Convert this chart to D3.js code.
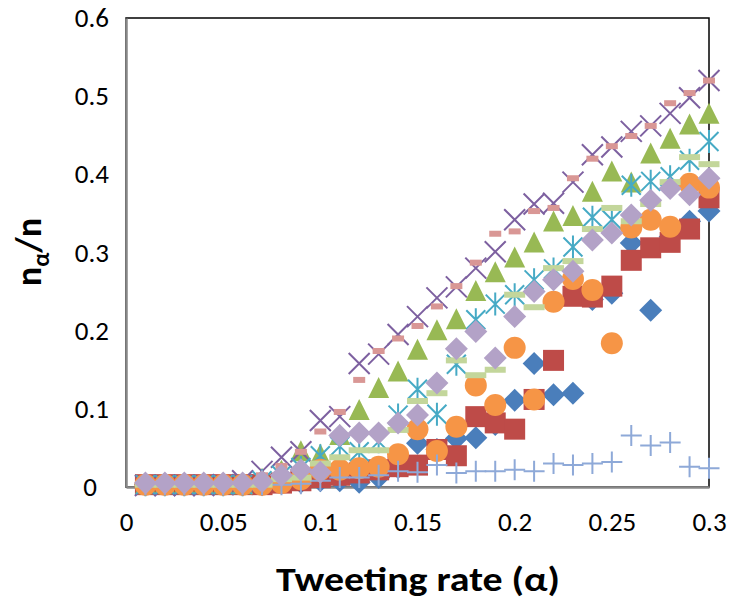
<!DOCTYPE html>
<html><head><meta charset="utf-8">
<script src="https://cdn.jsdelivr.net/npm/d3@7"></script>
<style>
html,body{margin:0;padding:0;background:#fff;}
svg text{font-family:"Carlito","Liberation Sans Narrow","Open Sans",sans-serif;}
</style></head>
<body><svg id="chart" width="733" height="605"></svg>
<script>
const alpha = [0.01,0.02,0.03,0.04,0.05,0.06,0.07,0.08,0.09,0.10,0.11,0.12,0.13,0.14,0.15,0.16,0.17,0.18,0.19,0.20,0.21,0.22,0.23,0.24,0.25,0.26,0.27,0.28,0.29,0.30];
const s1 = [0.003,0.003,0.003,0.003,0.003,0.003,0.003,0.005,0.006,0.008,0.008,0.006,0.012,0.025,0.056,0.048,0.062,0.063,0.08,0.111,0.158,0.118,0.12,0.24,0.248,0.312,0.226,0.32,0.34,0.353];
const s2 = [0.003,0.003,0.003,0.003,0.003,0.003,0.003,0.005,0.008,0.012,0.015,0.018,0.022,0.026,0.028,0.048,0.04,0.09,0.082,0.074,0.112,0.162,0.244,0.243,0.257,0.29,0.306,0.313,0.33,0.37];
const s3 = [0.003,0.003,0.003,0.003,0.003,0.003,0.01,0.02,0.045,0.041,0.066,0.098,0.126,0.147,0.175,0.2,0.214,0.25,0.274,0.293,0.312,0.339,0.346,0.377,0.403,0.389,0.426,0.445,0.463,0.477];
const s4 = [0.002,0.002,0.002,0.002,0.003,0.008,0.02,0.038,0.045,0.085,0.09,0.158,0.17,0.195,0.218,0.242,0.256,0.28,0.301,0.342,0.362,0.363,0.39,0.425,0.435,0.455,0.462,0.478,0.498,0.52];
const s5 = [0.003,0.003,0.003,0.003,0.003,0.003,0.008,0.015,0.025,0.04,0.052,0.045,0.058,0.092,0.125,0.093,0.157,0.214,0.234,0.246,0.265,0.279,0.307,0.345,0.342,0.386,0.391,0.397,0.418,0.442];
const s6 = [0.003,0.003,0.003,0.003,0.003,0.003,0.003,0.005,0.01,0.022,0.022,0.024,0.026,0.042,0.074,0.046,0.077,0.13,0.105,0.178,0.112,0.237,0.266,0.252,0.184,0.332,0.342,0.333,0.388,0.383];
const s7 = [0.003,0.003,0.003,0.003,0.003,0.003,0.003,0.003,0.004,0.008,0.012,0.012,0.015,0.02,0.019,0.028,0.018,0.02,0.02,0.022,0.02,0.03,0.028,0.03,0.032,0.066,0.053,0.057,0.026,0.024];
const s8 = [0.002,0.002,0.002,0.002,0.002,0.008,0.015,0.027,0.045,0.071,0.096,0.137,0.174,0.19,0.206,0.231,0.257,0.287,0.324,0.327,0.353,0.357,0.395,0.42,0.436,0.449,0.462,0.491,0.504,0.52];
const s9 = [0.003,0.003,0.003,0.003,0.003,0.003,0.003,0.01,0.012,0.03,0.038,0.047,0.047,0.073,0.11,0.12,0.162,0.143,0.15,0.246,0.23,0.28,0.289,0.33,0.357,0.34,0.362,0.39,0.422,0.413];
const s10 = [0.005,0.005,0.005,0.005,0.005,0.005,0.007,0.015,0.022,0.019,0.066,0.069,0.069,0.082,0.092,0.133,0.177,0.199,0.165,0.218,0.25,0.265,0.276,0.316,0.325,0.348,0.367,0.382,0.374,0.395];
const xTicks = [0,0.05,0.1,0.15,0.2,0.25,0.3];
const yTicks = [0,0.1,0.2,0.3,0.4,0.5,0.6];

const seriesList = [
  {v:s1, shape:"diamond", color:"#4A7EBB"},
  {v:s2, shape:"square", color:"#BE4B48"},
  {v:s3, shape:"triangle", color:"#98B954"},
  {v:s4, shape:"x", color:"#7D60A0"},
  {v:s5, shape:"star", color:"#46AAC5"},
  {v:s6, shape:"circle", color:"#F69546"},
  {v:s7, shape:"plus", color:"#8EA9D8"},
  {v:s8, shape:"dash", color:"#D99795"},
  {v:s9, shape:"longdash", color:"#C3D69B"},
  {v:s10, shape:"diamond", color:"#B3A2C7"}
];

const svg = d3.select("#chart");
const x = d3.scaleLinear().domain([0,0.3]).range([126,709]);
const y = d3.scaleLinear().domain([0,0.6]).range([487,18]);

svg.append("rect").attr("x",x(0)).attr("y",y(0.6)).attr("width",x(0.3)-x(0)).attr("height",y(0)-y(0.6))
  .attr("fill","none").attr("stroke","#000").attr("stroke-width",1.5);

const fmt = d => d===0 ? "0" : String(d);
const xAxis = svg.append("g").attr("transform",`translate(0,${y(0)})`)
  .call(d3.axisBottom(x).tickValues(xTicks).tickFormat(fmt).tickSize(0).tickPadding(25));
const yAxis = svg.append("g").attr("transform",`translate(${x(0)},0)`)
  .call(d3.axisLeft(y).tickValues(yTicks).tickFormat(fmt).tickSize(0).tickPadding(17));
[xAxis,yAxis].forEach(g=>{
  g.select(".domain").attr("stroke","#888").attr("stroke-width",2.5);
  g.selectAll("text").attr("font-size",27).attr("fill","#000");
});
yAxis.selectAll(".tick text").filter(d=>d===0).attr("dx",-12);

const R = 10.5;
function drawMarker(g, shape, color){
  switch(shape){
    case "diamond":
      g.append("path").attr("d",`M0,${-R-1}L${R+1},0L0,${R+1}L${-R-1},0Z`).attr("fill",color); break;
    case "square":
      g.append("rect").attr("x",-R).attr("y",-R).attr("width",2*R).attr("height",2*R).attr("fill",color); break;
    case "triangle":
      g.append("path").attr("d",`M0,${-R-1}L${R},${R-1}L${-R},${R-1}Z`).attr("fill",color); break;
    case "circle":
      g.append("circle").attr("r",R+0.5).attr("fill",color); break;
    case "x":
      g.append("path").attr("d",`M${-R},${-R}L${R},${R}M${R},${-R}L${-R},${R}`).attr("stroke",color).attr("stroke-width",2); break;
    case "star":
      g.append("path").attr("d",`M${-R+1},${-R+1}L${R-1},${R-1}M${R-1},${-R+1}L${-R+1},${R-1}M0,${-R-1}L0,${R+1}`).attr("stroke",color).attr("stroke-width",2); break;
    case "plus":
      g.append("path").attr("d",`M${-R},0L${R},0M0,${-R}L0,${R}`).attr("stroke",color).attr("stroke-width",2); break;
    case "dash":
      g.append("rect").attr("x",-6).attr("y",-3).attr("width",12).attr("height",6).attr("fill",color); break;
    case "longdash":
      g.append("rect").attr("x",-R).attr("y",-3).attr("width",2*R).attr("height",6).attr("fill",color); break;
  }
}
seriesList.forEach(s=>{
  const grp = svg.append("g");
  alpha.forEach((a,i)=>{
    const g = grp.append("g").attr("transform",`translate(${x(a)},${y(s.v[i])})`);
    drawMarker(g, s.shape, s.color);
  });
});

svg.append("text").attr("x",418).attr("y",591).attr("text-anchor","middle")
  .attr("font-size",35).attr("font-weight","bold")
  .attr("textLength",284).attr("lengthAdjust","spacingAndGlyphs").text("Tweeting rate (α)");
const yt = svg.append("text").attr("transform","translate(41,252) rotate(-90)").attr("text-anchor","middle")
  .attr("font-size",36).attr("font-weight","bold");
yt.append("tspan").text("n");
yt.append("tspan").attr("font-size",24).attr("dy",8).text("α");
yt.append("tspan").attr("dy",-8).text("/n");
</script></body></html>
